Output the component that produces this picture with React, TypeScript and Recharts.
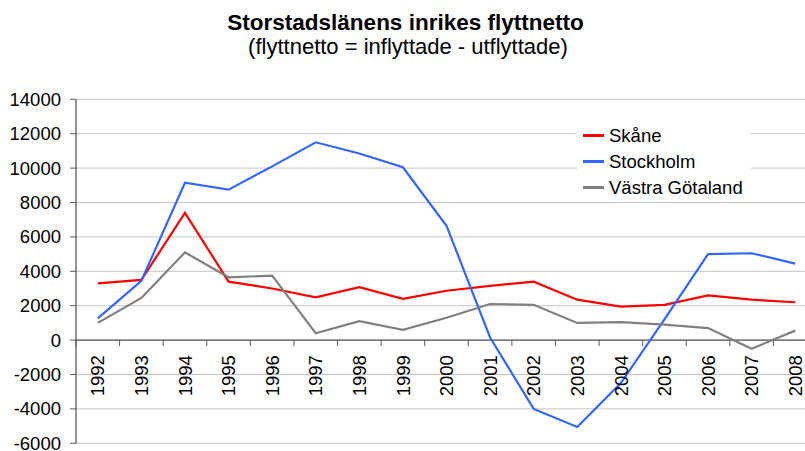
import React from "react";
import {
  CartesianGrid,
  Line,
  LineChart,
  ReferenceLine,
  XAxis,
  YAxis,
} from "recharts";

const YEARS = [
  "1992", "1993", "1994", "1995", "1996", "1997", "1998", "1999", "2000",
  "2001", "2002", "2003", "2004", "2005", "2006", "2007", "2008",
];
const SKANE = [
  3300, 3500, 7400, 3400, 3000, 2480, 3080, 2400, 2870,
  3150, 3400, 2350, 1950, 2050, 2600, 2350, 2200,
];
const STOCKHOLM = [
  1260, 3450, 9150, 8750, 10100, 11500, 10850, 10050, 6650,
  150, -4000, -5050, -2500, 1200, 5000, 5050, 4450,
];
const VASTRA_GOTALAND = [
  1000, 2450, 5100, 3650, 3750, 400, 1100, 600, 1300,
  2100, 2050, 1000, 1050, 900, 700, -500, 550,
];
const Y_TICKS = [-6000, -4000, -2000, 0, 2000, 4000, 6000, 8000, 10000, 12000, 14000];

const SERIES = [
  { key: "skane", name: "Skåne", color: "#ff0000" },
  { key: "stockholm", name: "Stockholm", color: "#3366ff" },
  { key: "vg", name: "Västra Götaland", color: "#808080" },
];

const data = YEARS.map((year, i) => ({
  year,
  skane: SKANE[i],
  stockholm: STOCKHOLM[i],
  vg: VASTRA_GOTALAND[i],
}));

const FONT = '"Liberation Sans", Arial, Helvetica, sans-serif';
const CHART_W = 817;
const CHART_H = 451;
const TOP = 99.3;
const BOTTOM = 6.7;
const X_AXIS_H = 1;
const Y_AXIS_W = 76;
const PLOT_W = CHART_W - Y_AXIS_W;
const PLOT_H = CHART_H - TOP - BOTTOM - X_AXIS_H;
const Y_MIN = -6000;
const Y_MAX = 14000;
const ZERO_Y = TOP + (PLOT_H * Y_MAX) / (Y_MAX - Y_MIN);
const BAND = PLOT_W / YEARS.length;
const AXIS_COLOR = "#5a5a5a";

// ticks sit between the years, labels hang under the zero line
function YearTick(props: any) {
  const { x, payload } = props;
  const left = x - BAND / 2;
  return (
    <g>
      <line x1={left} x2={left} y1={ZERO_Y} y2={ZERO_Y + 6} stroke={AXIS_COLOR} strokeWidth={1} />
      <text
        x={x}
        y={ZERO_Y + 15}
        dy="0.36em"
        transform={`rotate(-90 ${x} ${ZERO_Y + 15})`}
        textAnchor="end"
        fontSize={18.5}
        fontFamily={FONT}
        fill="#000"
      >
        {payload.value}
      </text>
    </g>
  );
}

function LegendBox() {
  return (
    <div
      style={{
        position: "absolute",
        left: 577,
        top: 122.7,
        width: 174,
        background: "#fff",
        fontSize: 18.5,
      }}
    >
      {SERIES.map((s) => (
        <div key={s.key} style={{ display: "flex", alignItems: "center", height: 26 }}>
          <span
            style={{
              display: "inline-block",
              width: 21,
              height: 3,
              background: s.color,
              marginLeft: 6,
              marginRight: 5,
            }}
          />
          <span style={{ color: "#000", whiteSpace: "nowrap" }}>{s.name}</span>
        </div>
      ))}
    </div>
  );
}

export default function App() {
  return (
    <div
      style={{
        position: "absolute",
        left: 0,
        top: 0,
        width: 805,
        height: 451,
        overflow: "hidden",
        background: "#fff",
        fontFamily: FONT,
      }}
    >
      <div
        style={{
          position: "absolute",
          left: 0,
          width: 811,
          top: 10,
          textAlign: "center",
          fontWeight: "bold",
          fontSize: 22.5,
          lineHeight: "26px",
          color: "#000",
        }}
      >
        Storstadslänens inrikes flyttnetto
      </div>
      <div
        style={{
          position: "absolute",
          left: 0,
          width: 816,
          top: 35,
          textAlign: "center",
          fontSize: 22,
          lineHeight: "24px",
          color: "#000",
        }}
      >
        (flyttnetto = inflyttade - utflyttade)
      </div>
      <div style={{ position: "absolute", left: 0, top: 0 }}>
        <LineChart
          width={CHART_W}
          height={CHART_H}
          data={data}
          margin={{ top: TOP, right: 0, bottom: BOTTOM, left: 0 }}
        >
          <CartesianGrid horizontal vertical={false} stroke="#c4c4c4" strokeWidth={1} />
          <XAxis
            dataKey="year"
            height={X_AXIS_H}
            axisLine={false}
            tickLine={false}
            interval={0}
            padding={{ left: BAND / 2, right: BAND / 2 }}
            tick={<YearTick />}
          />
          <YAxis
            width={Y_AXIS_W}
            domain={[Y_MIN, Y_MAX]}
            ticks={Y_TICKS}
            interval={0}
            axisLine={{ stroke: AXIS_COLOR, strokeWidth: 1.3 }}
            tickLine={{ stroke: AXIS_COLOR }}
            tickSize={6}
            tickMargin={9}
            tick={{ fontSize: 18.5, fontFamily: FONT, fill: "#000" }}
          />
          <ReferenceLine y={0} stroke={AXIS_COLOR} strokeWidth={1.3} />
          {SERIES.map((s) => (
            <Line
              key={s.key}
              dataKey={s.key}
              name={s.name}
              stroke={s.color}
              strokeWidth={2.2}
              dot={false}
              isAnimationActive={false}
            />
          ))}
        </LineChart>
      </div>
      <LegendBox />
    </div>
  );
}
